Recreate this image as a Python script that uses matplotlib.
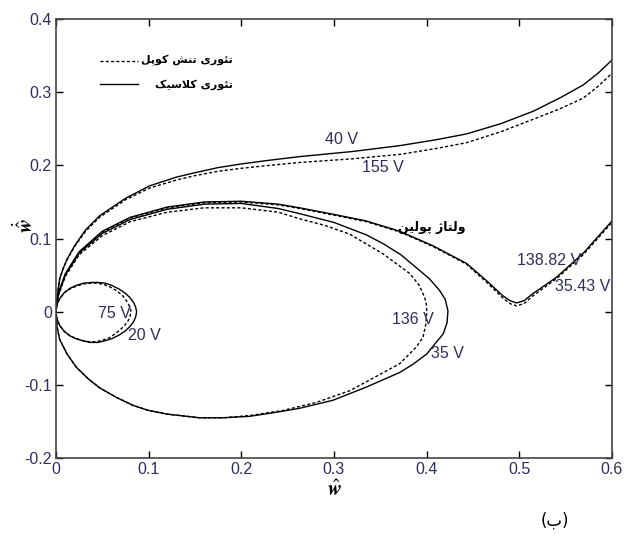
import numpy as np
import matplotlib
matplotlib.use('Agg')
import matplotlib.pyplot as plt

# outer trajectory (40 V classical / 155 V couple stress)
outer_x = [0, 0.001, 0.004, 0.008, 0.012, 0.02, 0.032, 0.047, 0.075, 0.101, 0.13, 0.15, 0.175, 0.2, 0.23, 0.263,
           0.32, 0.371, 0.41, 0.443, 0.48, 0.515, 0.545, 0.569, 0.585, 0.6]
outer_solid = [0, 0.018, 0.045, 0.06, 0.072, 0.09, 0.112, 0.131, 0.155, 0.172, 0.184, 0.190, 0.197, 0.202, 0.207, 0.212,
               0.219, 0.227, 0.235, 0.243, 0.257, 0.274, 0.293, 0.310, 0.326, 0.344]
outer_dash = [0, 0.018, 0.045, 0.06, 0.071, 0.089, 0.110, 0.129, 0.153, 0.169, 0.180, 0.186, 0.192, 0.196, 0.200, 0.204,
              0.209, 0.215, 0.223, 0.231, 0.246, 0.263, 0.278, 0.292, 0.308, 0.326]

# pull-in trajectory (138.82 V / 35.43 V)
pull_x = [0, 0.001, 0.003, 0.01, 0.025, 0.05, 0.08, 0.12, 0.16, 0.2, 0.24, 0.263, 0.3, 0.335, 0.371, 0.407,
          0.443, 0.465, 0.482, 0.49, 0.497, 0.505, 0.515, 0.54, 0.569, 0.6]
pull_solid = [0, 0.014, 0.027, 0.052, 0.082, 0.110, 0.129, 0.143, 0.150, 0.151, 0.147, 0.142, 0.133, 0.124, 0.110, 0.090,
              0.066, 0.042, 0.022, 0.015, 0.012, 0.015, 0.025, 0.047, 0.080, 0.124]
pull_dash = [0, 0.013, 0.026, 0.051, 0.081, 0.109, 0.128, 0.142, 0.149, 0.150, 0.146, 0.141, 0.132, 0.123, 0.109, 0.089,
             0.065, 0.040, 0.019, 0.011, 0.008, 0.011, 0.022, 0.045, 0.078, 0.122]

# large closed orbit (35 V classical / 136 V couple stress)
loop_sx = [0, 0.001, 0.003, 0.01, 0.025, 0.05, 0.08, 0.12, 0.16, 0.2, 0.24, 0.263, 0.3, 0.335, 0.353, 0.372, 0.389,
           0.403, 0.414, 0.42, 0.423, 0.422, 0.418, 0.407, 0.400, 0.385, 0.371, 0.335, 0.299, 0.263, 0.235, 0.209,
           0.18, 0.155, 0.120, 0.1, 0.083, 0.065, 0.047, 0.035, 0.022, 0.012, 0.004, 0.001, 0]
loop_sy = [0, 0.013, 0.025, 0.05, 0.08, 0.107, 0.126, 0.140, 0.147, 0.148, 0.141, 0.134, 0.122, 0.105, 0.093, 0.078, 0.060,
           0.045, 0.029, 0.017, 0.001, -0.015, -0.030, -0.047, -0.058, -0.072, -0.083, -0.103, -0.121, -0.132, -0.138, -0.143,
           -0.145, -0.145, -0.140, -0.135, -0.128, -0.117, -0.104, -0.092, -0.076, -0.058, -0.038, -0.02, 0]
loop_dx = [0, 0.001, 0.003, 0.01, 0.025, 0.05, 0.08, 0.12, 0.16, 0.2, 0.24, 0.263, 0.29, 0.317, 0.353, 0.382, 0.392,
           0.398, 0.4, 0.400, 0.399, 0.396, 0.389, 0.371, 0.339, 0.317, 0.281, 0.245, 0.209, 0.18, 0.155, 0.12, 0.1,
           0.083, 0.065, 0.047, 0.035, 0.022, 0.012, 0.004, 0.001, 0]
loop_dy = [0, 0.012, 0.024, 0.048, 0.078, 0.104, 0.123, 0.136, 0.142, 0.142, 0.136, 0.127, 0.118, 0.106, 0.079, 0.052, 0.036,
           0.019, 0.008, -0.003, -0.018, -0.035, -0.048, -0.071, -0.093, -0.108, -0.124, -0.135, -0.142, -0.145, -0.145,
           -0.140, -0.135, -0.128, -0.117, -0.104, -0.092, -0.076, -0.058, -0.038, -0.02, 0]

# small closed orbit (75 V / 20 V)
small_sx = [0, 0.001, 0.004, 0.009, 0.015, 0.022, 0.03, 0.038, 0.045, 0.053, 0.06, 0.068, 0.075, 0.08, 0.084, 0.086, 0.087,
            0.086, 0.084, 0.08, 0.075, 0.068, 0.06, 0.052, 0.045, 0.037, 0.03, 0.022, 0.015, 0.009, 0.004, 0.001, 0]
small_sy = [0, 0.01, 0.018, 0.026, 0.032, 0.036, 0.039, 0.040, 0.040, 0.039, 0.036, 0.031, 0.025, 0.019, 0.012, 0.006, 0,
            -0.007, -0.013, -0.020, -0.026, -0.032, -0.037, -0.040, -0.042, -0.042, -0.040, -0.037, -0.033, -0.027, -0.019, -0.01, 0]
small_dx = [0, 0.001, 0.004, 0.009, 0.015, 0.022, 0.03, 0.038, 0.045, 0.052, 0.058, 0.065, 0.071, 0.075, 0.078, 0.080, 0.081,
            0.080, 0.078, 0.074, 0.069, 0.063, 0.057, 0.05, 0.043, 0.036, 0.03, 0.022, 0.015, 0.009, 0.004, 0.001, 0]
small_dy = [0, 0.01, 0.018, 0.026, 0.031, 0.035, 0.038, 0.039, 0.039, 0.037, 0.034, 0.029, 0.023, 0.017, 0.011, 0.005, 0,
            -0.006, -0.012, -0.019, -0.025, -0.031, -0.036, -0.039, -0.041, -0.041, -0.040, -0.037, -0.033, -0.027, -0.019, -0.01, 0]

labels = ['40 V', '155 V', '138.82 V', '35.43 V', '136 V', '35 V', '75 V', '20 V']
label_x = [0.29, 0.33, 0.498, 0.538, 0.363, 0.405, 0.045, 0.078]
label_y = [0.236, 0.197, 0.070, 0.035, -0.010, -0.057, -0.003, -0.033]

# Persian strings written in shaped, visual order
leg_couple = '\uFEDE\uFB58\uFEEE\uFB90 \uFEB6\uFEE8\uFE97 \uFBFC\uFEAD\uFEEE\uFE8C\uFE97'
leg_classic = '\uFB8F\uFBFF\uFEB3\uFEFC\uFB90 \uFBFC\uFEAD\uFEEE\uFE8C\uFE97'
pullin_txt = '\uFEE6\uFBFF\uFEDF\uFEEE\uFB58 \uFB8A\uFE8E\uFE98\uFEDF\uFEED'

tick_col = '#2e2e5e'
narrow = ['Liberation Sans', 'DejaVu Sans']
dash = (0, (2.2, 1.6))

def main():
    plt.rcParams['mathtext.fontset'] = 'stix'
    fig = plt.figure(figsize=(6.3, 5.45), dpi=100)
    ax = fig.add_axes([0.0889, 0.1596, 0.8825, 0.8054])

    ax.plot(outer_x, outer_solid, color='black', lw=1.0)
    ax.plot(outer_x, outer_dash, color='black', lw=1.0, linestyle=dash)
    ax.plot(pull_x, pull_solid, color='black', lw=1.0)
    ax.plot(pull_x, pull_dash, color='black', lw=1.0, linestyle=dash)
    ax.plot(loop_sx, loop_sy, color='black', lw=1.0)
    ax.plot(loop_dx, loop_dy, color='black', lw=1.0, linestyle=dash)
    ax.plot(small_sx, small_sy, color='black', lw=1.0)
    ax.plot(small_dx, small_dy, color='black', lw=1.0, linestyle=dash)

    for t, x, y in zip(labels, label_x, label_y):
        ax.text(x, y, t, fontsize=11.5, color=tick_col, family=narrow, va='center', ha='left')

    ax.text(0.405, 0.115, pullin_txt, fontsize=9, fontweight='bold', family='DejaVu Sans',
            ha='center', va='center')

    # hand-made legend
    ax.plot([0.047, 0.089], [0.343, 0.343], color='black', lw=1.0, linestyle=dash)
    ax.plot([0.047, 0.089], [0.311, 0.311], color='black', lw=1.0)
    ax.text(0.191, 0.343, leg_couple, fontsize=8, fontweight='bold', family='DejaVu Sans', ha='right', va='center')
    ax.text(0.191, 0.311, leg_classic, fontsize=8, fontweight='bold', family='DejaVu Sans', ha='right', va='center')

    ax.set_xlim(0, 0.6)
    ax.set_ylim(-0.2, 0.4)
    ax.set_xticks([0, 0.1, 0.2, 0.3, 0.4, 0.5, 0.6])
    ax.set_xticklabels(['0', '0.1', '0.2', '0.3', '0.4', '0.5', '0.6'])
    ax.set_yticks([-0.2, -0.1, 0, 0.1, 0.2, 0.3, 0.4])
    ax.set_yticklabels(['-0.2', '-0.1', '0', '0.1', '0.2', '0.3', '0.4'])
    ax.tick_params(direction='in', top=True, right=True, length=5, width=1,
                   labelcolor=tick_col, labelsize=11.5, pad=3)
    for lab in ax.get_xticklabels() + ax.get_yticklabels():
        lab.set_family(narrow)
    for s in ax.spines.values():
        s.set_color('#444444')
        s.set_linewidth(1.2)

    ax.set_xlabel(r'$\hat{\mathbfit{w}}$', fontsize=15, labelpad=2)
    ax.set_ylabel(r'$\dot{\hat{\mathbfit{w}}}$', fontsize=15)
    ax.yaxis.set_label_coords(-0.035, 0.53)

    fig.text(0.88, 0.045, '(\uFE8F)', fontsize=12, ha='center', va='center', family='DejaVu Sans')

    plt.savefig('out.png', dpi=100)

if __name__ == "__main__":
    main()
